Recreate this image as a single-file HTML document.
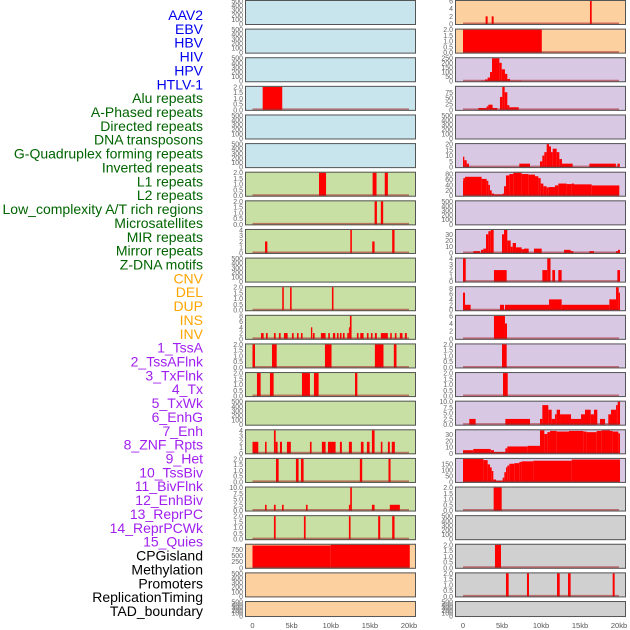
<!DOCTYPE html>
<html><head><meta charset="utf-8"><style>
body{margin:0;background:#fff;width:630px;height:630px;overflow:hidden}
svg{display:block;font-family:"Liberation Sans",sans-serif}
</style></head><body>
<svg id="chart" width="630" height="630" viewBox="0 0 630 630" xmlns="http://www.w3.org/2000/svg">
<g id="labels"></g>
<g id="panels"></g>
<g id="xaxes"></g>
</svg>
<script>
const trackLabels=["AAV2","EBV","HBV","HIV","HPV","HTLV-1","Alu repeats","A-Phased repeats","Directed repeats","DNA transposons","G-Quadruplex forming repeats","Inverted repeats","L1 repeats","L2 repeats","Low_complexity A/T rich regions","Microsatellites","MIR repeats","Mirror repeats","Z-DNA motifs","CNV","DEL","DUP","INS","INV","1_TssA","2_TssAFlnk","3_TxFlnk","4_Tx","5_TxWk","6_EnhG","7_Enh","8_ZNF_Rpts","9_Het","10_TssBiv","11_BivFlnk","12_EnhBiv","13_ReprPC","14_ReprPCWk","15_Quies","CPGisland","Methylation","Promoters","ReplicationTiming","TAD_boundary"];
const labelColors=[].concat(Array(6).fill("#0000ee"),Array(13).fill("#006400"),Array(5).fill("#ffa500"),Array(15).fill("#a020f0"),Array(5).fill("#000000"));
const xTicks=[0,5,10,15,20];
const xTickLabels=["0","5kb","10kb","15kb","20kb"];
const E=["0","100","200","300","400","500"];
const T2=["0.0","0.5","1.0","1.5","2.0"];
const leftBg=["#c8e4ec","#c8e4ec","#c8e4ec","#c8e4ec","#c8e4ec","#c8e4ec","#c8e0a4","#c8e0a4","#c8e0a4","#c8e0a4","#c8e0a4","#c8e0a4","#c8e0a4","#c8e0a4","#c8e0a4","#c8e0a4","#c8e0a4","#c8e0a4","#c8e0a4","#fdd09f","#fdd09f","#fdd09f"];
const rightBg=["#fdd09f","#fdd09f","#d8c8e4","#d8c8e4","#d8c8e4","#d8c8e4","#d8c8e4","#d8c8e4","#d8c8e4","#d8c8e4","#d8c8e4","#d8c8e4","#d8c8e4","#d8c8e4","#d8c8e4","#d8c8e4","#d8c8e4","#d0d0d0","#d0d0d0","#d0d0d0","#d0d0d0","#d0d0d0"];
const leftYmax=[500,500,500,2,500,500,2,2,4,500,2,8,2,2,500,4,2,10,2,950,500,500];
const leftTicks=[E,E,E,T2,E,E,T2,T2,["0","1","2","3","4"],E,T2,["0","2","4","6","8"],T2,T2,E,["0","1","2","3","4"],T2,["0.0","2.5","5.0","7.5","10.0"],T2,["0","250","500","750"],E,E];
const leftSegs=[[],[],[],[[1.3,3.8,2]],[],[],
[[8.5,9.4,2],[15.35,15.85,2],[16.9,17.3,2]],
[[15.6,15.9,2],[16.4,16.7,2]],
[[1.6,1.9,2],[12.5,12.7,4],[15.3,15.6,2],[17.85,18.15,4]],
[],
[[3.8,4.0,2],[4.8,5.0,2],[10.15,10.35,2]],
[[1.09,1.42,2],[1.72,1.94,2],[2.74,2.96,2],[3.38,3.6,2],[4.02,4.49,2],[5.04,5.26,2],[5.68,5.89,2],[6.19,6.4,2],[7.47,7.64,4],[7.72,7.94,2],[8.74,9.34,2],[9.68,9.89,2],[10.28,10.57,2],[10.79,11.0,2],[11.17,11.38,2],[11.55,11.77,2],[12.11,12.32,2],[12.32,12.45,4],[12.45,12.66,8],[13.34,13.55,2],[13.77,14.19,2],[14.62,14.83,2],[15.13,15.34,2],[15.64,15.89,2],[16.4,17.3,2],[17.6,17.8,2],[18.19,18.4,2],[18.83,19.17,2],[19.47,19.72,2]],
[[0,0.32,2],[2.49,3.09,2],[9.26,10.1,2],[15.64,16.74,2],[18.06,18.4,2]],
[[0.57,1.04,2],[2.23,2.7,2],[6.32,7.34,2],[7.85,8.45,2],[13.1,13.4,2]],
[],
[[0,0.74,2],[1.6,1.8,2],[2.74,2.96,4],[2.96,3.21,2],[3.51,3.77,2],[4.4,4.9,2],[7.34,7.55,2],[8.87,9.34,2],[9.64,10.62,2],[11.17,11.42,2],[12.32,12.7,2],[13.85,14.19,2],[14.62,14.96,2],[15.26,15.6,4],[16.4,16.6,2],[17.3,17.55,2],[17.8,18.19,2]],
[[3.0,3.34,2],[5.55,5.89,2],[6.19,6.53,2],[13.72,14.02,2],[17.38,17.64,2]],
[[1.6,1.8,2.5],[2.74,2.96,2.5],[3.77,3.98,2.5],[6.83,7.04,2.5],[12.32,12.49,2.5],[12.49,12.7,10],[15.26,15.6,2.5],[17.55,18.83,2.5]],
[[2.74,2.96,2],[6.57,6.79,2],[12.32,12.53,2],[16.06,16.32,2],[17.85,18.15,2]],
[[0,10,920],[10,20.1,950]],
[],[]];
const rightYmax=[6,2,250,98,500,20,85,500,37,4,8.5,6,2,2,10,37,190,2,500,2,2,500];
const rightTicks=[["0","2","4","6"],T2,["0","50","100","150","200","250"],["0","25","50","75"],E,["0","5","10","15","20"],["0","20","40","60","80"],E,["0","10","20","30"],["0","1","2","3","4"],["0","2","4","6","8"],["0","2","4","6"],T2,T2,["0.0","2.5","5.0","7.5","10.0"],["0","10","20","30"],["0","50","100","150"],T2,E,T2,T2,E];
const rightSegs=[
[[2.9,3.16,2],[3.68,3.93,2],[16.28,16.5,6]],
[[0,10.1,2]],
[[2.31,2.82,5],[2.82,3.16,20],[3.16,3.46,40],[3.46,3.72,100],[3.72,4.66,250],[4.66,4.96,200],[4.96,5.38,130],[5.38,5.68,80],[5.68,6.03,25],[6.03,7.52,5]],
[[1.97,3.03,8],[3.03,3.25,15],[3.25,3.8,22],[3.8,4.4,8],[4.74,5.04,55],[5.04,5.34,98],[5.34,5.68,75],[5.68,5.94,20],[5.94,7.14,11]],
[],
[[0,0.17,9],[0.17,0.47,6],[0.47,0.77,3],[7.22,8.59,3],[9.87,10.17,5],[10.17,10.43,10],[10.43,10.73,13],[10.73,11.03,20],[11.03,11.28,18],[11.28,11.5,13],[11.5,12.01,16],[12.01,12.35,13],[12.35,12.69,7],[12.69,14.06,3],[16.2,19.6,3],[19.8,20.1,3]],
[[0,0.04,55],[0.04,0.26,65],[0.26,2.39,70],[2.39,3.03,62],[3.03,3.25,55],[3.25,3.46,40],[3.46,3.68,20],[3.68,3.97,8],[3.97,5.09,5],[5.09,5.26,8],[5.26,5.51,35],[5.51,5.94,75],[5.94,6.45,80],[6.45,7.52,85],[7.52,8.38,80],[8.38,9.23,78],[9.23,9.66,72],[9.66,9.96,65],[9.96,10.3,45],[10.3,10.73,35],[10.73,10.94,30],[10.94,11.79,32],[11.79,12.22,38],[12.22,13.29,45],[13.29,13.93,43],[13.93,14.23,45],[14.23,16.5,42],[16.5,20.04,38]],
[],
[[1.32,2.18,3],[2.31,2.61,5],[2.61,2.95,7],[2.95,3.25,30],[3.25,3.55,35],[3.55,3.93,37],[5.0,5.26,30],[5.26,5.68,37],[5.68,6.11,20],[6.11,6.37,10],[6.37,6.79,16],[6.79,7.52,9],[7.52,7.82,6],[7.82,8.42,7],[9.1,10.09,7],[12.95,13.8,5],[13.8,14.15,3],[16.2,16.79,3],[19.62,19.87,3],[19.87,20.13,5]],
[[0,0.35,4],[3.97,5.6,2],[10.17,10.8,2],[10.8,11.22,4],[11.45,11.8,2],[12.22,12.65,2],[19.79,20.13,2]],
[[0,0.26,6.5],[0.26,0.98,2],[4.74,5.26,2],[5.38,11.03,2],[11.03,12.65,4],[12.65,18.76,2],[18.76,19.62,4],[19.62,19.96,8.5],[19.96,20.13,6.5]],
[[3.97,5.38,6],[5.38,5.64,4]],
[[5.0,5.6,2]],
[[5.13,5.73,2]],
[[0.81,1.62,2.5],[5.43,8.59,2.5],[9.87,10.17,2.5],[10.17,10.94,8.5],[10.94,11.37,6.5],[11.37,11.79,2.5],[11.79,12.01,4.5],[12.01,12.44,6.5],[12.44,13.85,4.5],[13.85,15.13,2.5],[15.13,15.64,4.5],[15.64,16.37,6.5],[16.37,16.79,4.5],[16.79,17.22,6.5],[17.56,18.21,2.5],[18.63,18.97,4.5],[18.97,19.62,6.5],[19.62,19.83,8.5],[19.83,20.13,10]],
[[0,1.32,5],[1.32,3.55,7],[3.55,3.97,5],[3.97,5.43,2],[5.43,5.68,8],[5.68,8.29,11],[8.29,9.87,12],[9.87,10.43,37],[10.43,10.81,31],[10.81,11.15,34],[11.15,12.01,36],[12.01,13.59,35],[13.59,15.43,36],[15.43,15.85,35],[15.85,17.14,34],[17.14,17.78,36],[17.78,18.85,37],[18.85,19.19,36],[19.19,19.91,35],[19.91,20.13,32]],
[[0,2.61,190],[2.61,3.16,180],[3.16,3.46,145],[3.46,3.68,120],[3.68,3.89,90],[3.89,4.23,20],[4.23,5.09,10],[5.09,5.3,35],[5.3,5.51,80],[5.51,5.68,120],[5.68,5.94,135],[5.94,6.58,150],[6.58,7.22,155],[7.22,7.52,165],[7.52,9.02,170],[9.02,13.93,175],[13.93,20.13,185]],
[[3.93,4.96,2]],
[],
[[4.1,4.87,2]],
[[5.51,5.85,2],[8.2,8.46,2],[12.05,12.4,2],[13.46,13.8,2],[19.19,19.44,2]],
[]];

const NS="http://www.w3.org/2000/svg";
function mk(parent,tag,attrs,text){const e=document.createElementNS(NS,tag);for(const k in attrs)e.setAttribute(k,attrs[k]);if(text!==undefined)e.textContent=text;parent.appendChild(e);return e;}
const labelsG=document.getElementById('labels');
trackLabels.forEach((t,i)=>{
  const el=mk(labelsG,'text',{x:203,y:15+i*13.86+5,'text-anchor':'end','font-size':'14',fill:labelColors[i]},t);
  
  
});
const cols=[{x0:245,x1:416,d0:252.5,d1:409,bg:leftBg,ymax:leftYmax,ticks:leftTicks,segs:leftSegs,name:'left'},
            {x0:455,x1:626,d0:463,d1:619,bg:rightBg,ymax:rightYmax,ticks:rightTicks,segs:rightSegs,name:'right'}];
const panelsG=document.getElementById('panels');
cols.forEach(c=>{
  const xs=v=>c.d0+(c.d1-c.d0)*v/20;
  for(let i=0;i<22;i++){
    const top=i*28.62, h=(i===21)?16:25;
    const g=mk(panelsG,'g',{});
    
    
    mk(g,'rect',{x:c.x0,y:top,width:c.x1-c.x0,height:h,fill:c.bg[i]});
    const ybot=top+h-1, ytop=top+1;
    const ys=v=>ybot-(ybot-ytop)*v/c.ymax[i];
    c.ticks[i].forEach(t=>{
      const tl=mk(g,'text',{x:c.x0-2,y:ys(parseFloat(t))+2.5,'text-anchor':'end','font-size':'7',fill:'#666'},t);
      
      
    });
    const segs=c.segs[i];
    segs.forEach(s=>{
      const b=mk(g,'rect',{x:xs(s[0]),y:ys(s[2]),width:Math.max(1,xs(s[1])-xs(s[0])),height:ybot-ys(s[2]),fill:'#ff0000'});
      
      
    });
    if(segs.length){
      const bl=mk(g,'line',{x1:xs(0),x2:xs(20),y1:ybot-0.5,y2:ybot-0.5,stroke:'rgba(170,30,30,0.55)','stroke-width':2});
      
      
    }
    mk(g,'rect',{x:c.x0+0.5,y:top+0.5,width:c.x1-c.x0-1,height:h-1,fill:'none',stroke:'#555','stroke-width':1});
  }
  const xg=document.getElementById('xaxes');
  xTicks.forEach((v,j)=>{
    const t=mk(xg,'text',{x:xs(v),y:628,'text-anchor':'middle','font-size':'7.5',fill:'#555'},xTickLabels[j]);
    
    
  });
});
</script>
</body></html>
